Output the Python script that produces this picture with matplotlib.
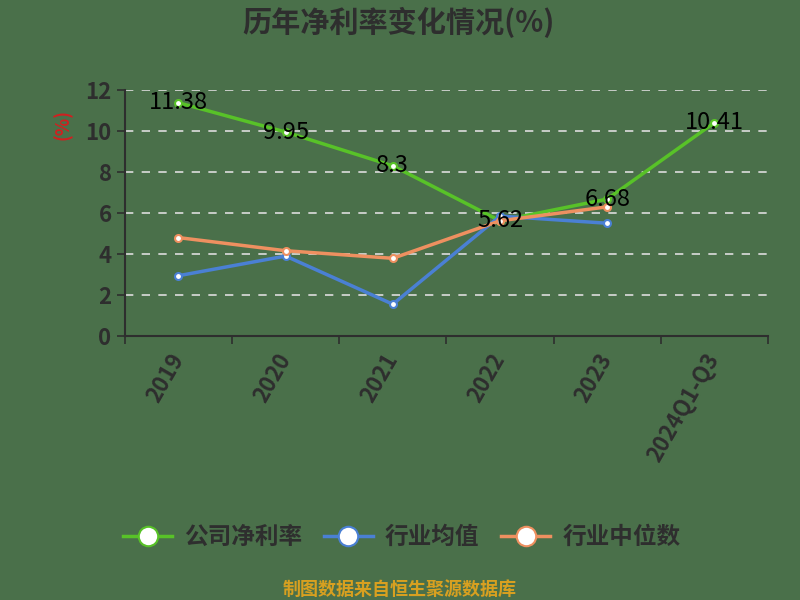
import matplotlib.pyplot as plt
from matplotlib.ticker import MultipleLocator

plt.rcParams['font.family'] = ['Noto Sans CJK SC', 'DejaVu Sans']

# data
years = ['2019', '2020', '2021', '2022', '2023', '2024Q1-Q3']
company = [11.38, 9.95, 8.3, 5.62, 6.68, 10.41]
industry_avg = [2.94, 3.9, 1.55, 5.85, 5.5]
industry_median = [4.8, 4.16, 3.79, 5.62, 6.3]

bg = '#4a704a'
green = '#58c228'
blue = '#4a80d4'
orange = '#ee9060'
dark = '#2e2e2e'

fig = plt.figure(figsize=(8, 6), dpi=100, facecolor=bg)
ax = fig.add_axes([0.156, 0.44, 0.804, 0.41], facecolor=bg)

x = list(range(len(years)))
ax.plot(x, company, color=green, lw=2.5, marker='o', ms=5,
        mfc='white', mec=green, mew=1.5, label='公司净利率', zorder=3)
ax.plot(x[:len(industry_avg)], industry_avg, color=blue, lw=2.5, marker='o', ms=5,
        mfc='white', mec=blue, mew=1.5, label='行业均值', zorder=3)
ax.plot(x[:len(industry_median)], industry_median, color=orange, lw=2.5, marker='o', ms=5,
        mfc='white', mec=orange, mew=1.5, label='行业中位数', zorder=3)

for xi, v in zip(x, company):
    ax.text(xi, v, f'{v:g}', ha='center', va='center', fontsize=17,
            fontweight='medium', color='black', zorder=4)

ax.set_xlim(-0.5, len(years) - 0.5)
ax.set_ylim(0, 12)
ax.yaxis.set_major_locator(MultipleLocator(2))
ax.grid(axis='y', color='#dddddd', linestyle=(0, (5, 5)), linewidth=1.2)
ax.set_axisbelow(True)

ax.set_xticks([i - 0.5 for i in range(len(years) + 1)], minor=False)
ax.set_xticklabels([])
ax.set_xticks(x, minor=True)
ax.set_xticklabels(years, minor=True, rotation=60, ha='right', va='center',
                   rotation_mode='anchor', fontsize=16, fontweight='bold',
                   color=dark)
ax.tick_params(axis='x', which='major', length=6, color=dark, width=1.2)
ax.tick_params(axis='x', which='minor', length=0, pad=14)
ax.tick_params(axis='y', length=6, color=dark, width=1.2, labelsize=16,
               labelcolor=dark)
for t in ax.get_yticklabels():
    t.set_fontweight('bold')

for side in ['top', 'right']:
    ax.spines[side].set_visible(False)
for side in ['left', 'bottom']:
    ax.spines[side].set_color(dark)
    ax.spines[side].set_linewidth(1.5)

fig.text(0.078, 0.792, '(%)', rotation=90, ha='center', va='center',
         color='#d02020', fontsize=13, fontweight='bold')

fig.text(0.498, 0.963, '历年净利率变化情况(%)', ha='center', va='center',
         fontsize=21, fontweight='bold', color=dark)

leg = fig.legend(loc='center', bbox_to_anchor=(0.502, 0.105), ncol=3,
                 frameon=False,
                 prop={'size': 17, 'weight': 'bold'}, markerscale=2.8,
                 handlelength=2.1, columnspacing=0.9, handletextpad=0.5)
for t in leg.get_texts():
    t.set_color(dark)

fig.text(0.5, 0.018, '制图数据来自恒生聚源数据库', ha='center', va='center',
         fontsize=13, fontweight='bold', color='#d8a020')

fig.savefig('out.png', dpi=100, facecolor=bg)
